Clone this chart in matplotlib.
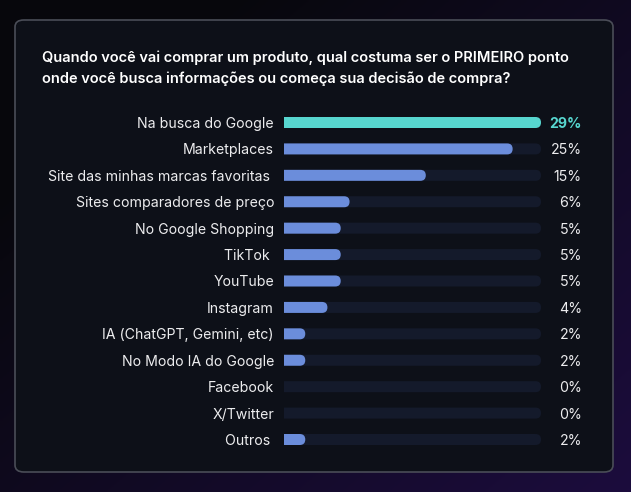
import numpy as np
import matplotlib
matplotlib.use('Agg')
import matplotlib.pyplot as plt
from matplotlib.patches import FancyBboxPatch

# dados do gráfico
categorias = ['Na busca do Google', 'Marketplaces', 'Site das minhas marcas favoritas ',
              'Sites comparadores de preço', 'No Google Shopping', 'TikTok ', 'YouTube',
              'Instagram', 'IA (ChatGPT, Gemini, etc)', 'No Modo IA do Google',
              'Facebook', 'X/Twitter', 'Outros ']
valores = [29, 25, 15, 6, 5, 5, 5, 4, 2, 2, 0, 0, 2]
# comprimento das barras como aparece na figura (escala: trilha cheia = 29)
comprimentos = [29, 25.8, 16.0, 7.4, 6.4, 6.4, 6.4, 4.9, 2.4, 2.4, 0, 0, 2.4]
titulo = ('Quando você vai comprar um produto, qual costuma ser o PRIMEIRO ponto\n'
          'onde você busca informações ou começa sua decisão de compra?')

FONTE = 'Inter'

W, H = 631, 492
fig = plt.figure(figsize=(W / 100, H / 100), dpi=100)

# fundo com gradiente escuro -> roxo
bg = fig.add_axes([0, 0, 1, 1])
bg.set_zorder(0)
xx, yy = np.meshgrid(np.linspace(0, 1, 200), np.linspace(0, 1, 200))
t = np.clip(0.65 * xx + 0.6 * yy - 0.25, 0, 1)
c0 = np.array([0.03, 0.03, 0.05])
c1 = np.array([0.11, 0.05, 0.24])
img = c0 + (c1 - c0) * t[..., None]
bg.imshow(img, extent=[0, 1, 0, 1], aspect='auto', origin='upper')
bg.set_xlim(0, 1)
bg.set_ylim(0, 1)
bg.axis('off')

# cartão
card = FancyBboxPatch((15 / W, 1 - 472 / H), 598 / W, 452 / H,
                      boxstyle='round,pad=0,rounding_size=0.014',
                      transform=fig.transFigure, facecolor='#0d1018',
                      edgecolor='#4a4d57', linewidth=1.2, zorder=1)
fig.patches.append(card)

linhas = titulo.split('\n')
fig.text(42 / W, 1 - 62 / H, linhas[0], color='white', fontsize=10.5,
         fontweight='semibold', family=FONTE, va='baseline', ha='left', zorder=3)
fig.text(42 / W, 1 - 83 / H, linhas[1], color='white', fontsize=10.5,
         fontweight='semibold', family=FONTE, va='baseline', ha='left', zorder=3)

# eixo das barras
n = len(categorias)
escala = max(comprimentos)
passo = (439 - 122) / (n - 1)
topo = 122.5 - passo / 2
base = 439.5 + passo / 2
ax = fig.add_axes([284 / W, 1 - base / H, 257 / W, (base - topo) / H])
ax.set_zorder(2)
ax.set_xlim(0, escala)
ax.set_ylim(n - 0.5, -0.5)
ax.axis('off')

px_x = 257 / escala
px_y = passo
alt = 11 / px_y
raio = 5.5 / px_x
aspecto = px_x / px_y

for i, (cat, v, c) in enumerate(zip(categorias, valores, comprimentos)):
    trilha = FancyBboxPatch((-raio, i - alt / 2), escala + raio, alt,
                            boxstyle=f'round,pad=0,rounding_size={raio}',
                            mutation_aspect=aspecto, facecolor='#141a2b',
                            edgecolor='none', zorder=2)
    ax.add_patch(trilha)
    cor = '#57d6cf' if i == 0 else '#6b8ddb'
    if c > 0:
        barra = FancyBboxPatch((-raio, i - alt / 2), c + raio, alt,
                               boxstyle=f'round,pad=0,rounding_size={raio}',
                               mutation_aspect=aspecto, facecolor=cor,
                               edgecolor='none', zorder=3)
        ax.add_patch(barra)
    ax.text(-10 / 257, i, cat, transform=ax.get_yaxis_transform(),
            ha='right', va='center_baseline', color='#ececee', fontsize=10.2,
            family=FONTE, clip_on=False)
    ax.text(298 / 257, i, f'{v}%', transform=ax.get_yaxis_transform(),
            ha='right', va='center_baseline',
            color='#57d6cf' if i == 0 else '#ececee',
            fontsize=10.2, family=FONTE, fontweight='bold' if i == 0 else 'normal',
            clip_on=False)

fig.savefig('out.png', dpi=100)
